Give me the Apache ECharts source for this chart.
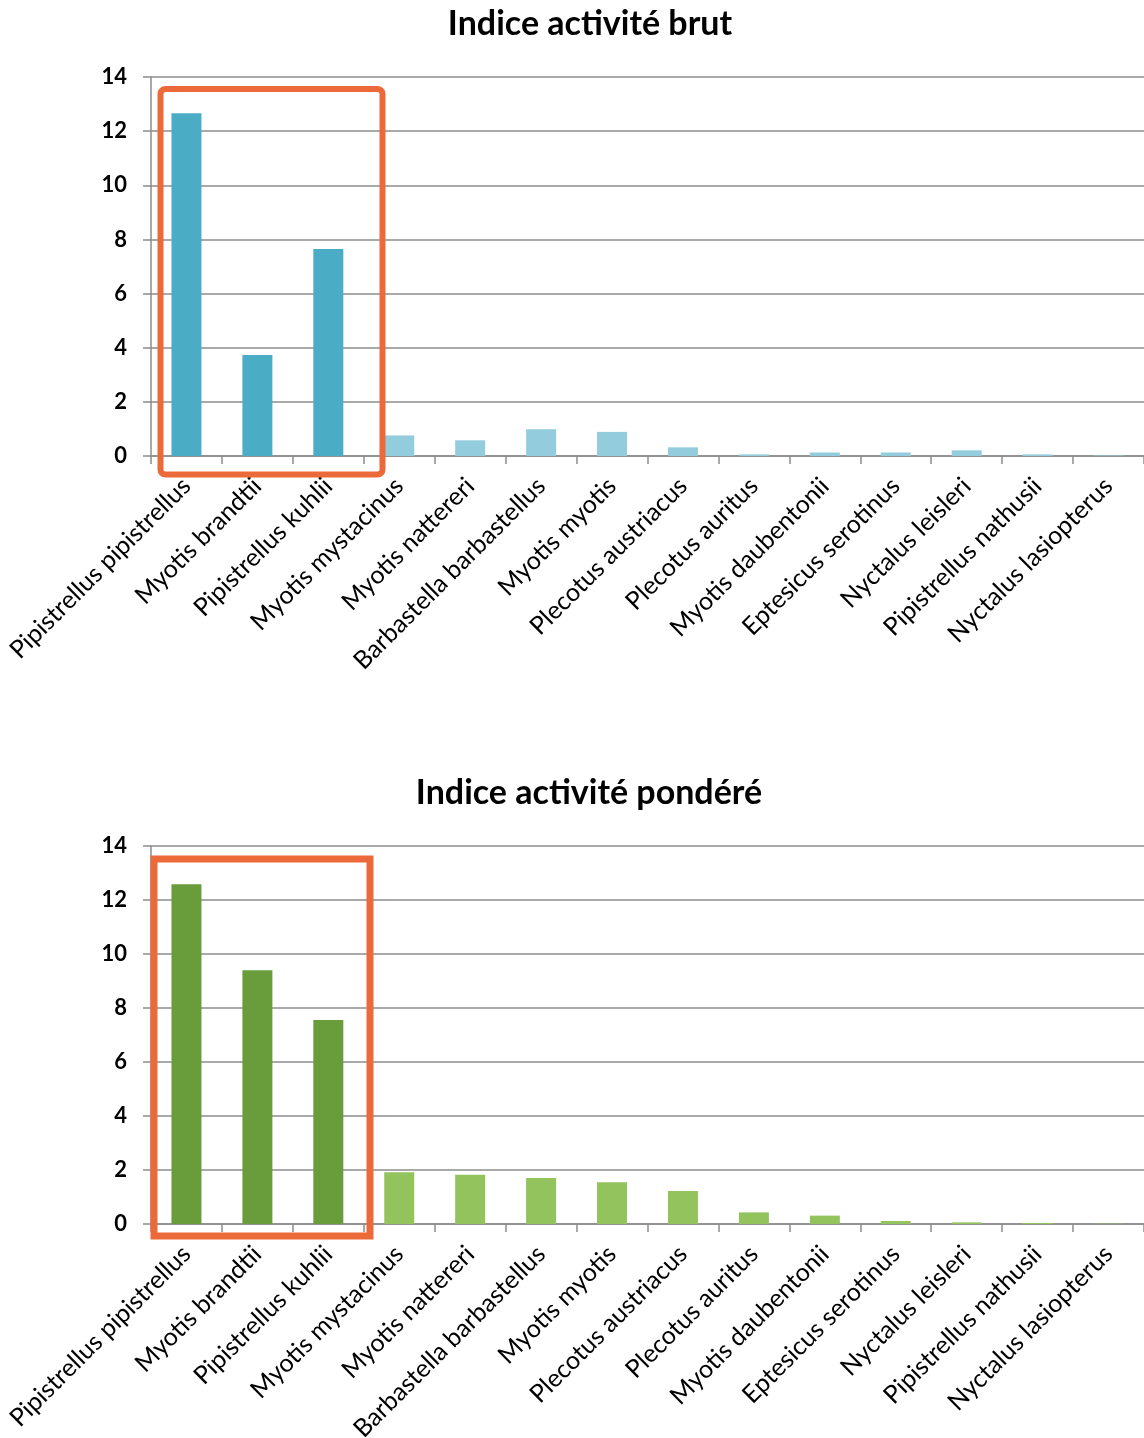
<!DOCTYPE html>
<html>
<head>
<meta charset="utf-8">
<script src="https://cdn.jsdelivr.net/npm/echarts@6/dist/echarts.min.js"></script>
<style>
  html, body { margin: 0; padding: 0; background: #fff; }
  #chart { width: 1144px; height: 1438px; }
</style>
</head>
<body>
<div id="chart"></div>
<script>
// species, same order in both charts
const species = [
  'Pipistrellus pipistrellus', 'Myotis brandtii', 'Pipistrellus kuhlii', 'Myotis mystacinus',
  'Myotis nattereri', 'Barbastella barbastellus', 'Myotis myotis', 'Plecotus austriacus',
  'Plecotus auritus', 'Myotis daubentonii', 'Eptesicus serotinus', 'Nyctalus leisleri',
  'Pipistrellus nathusii', 'Nyctalus lasiopterus'
]
const brut = [12.66, 3.73, 7.65, 0.76, 0.58, 0.99, 0.89, 0.32, 0.06, 0.13, 0.13, 0.21, 0.06, 0.02]
const pondere = [12.58, 9.40, 7.56, 1.92, 1.82, 1.70, 1.55, 1.22, 0.43, 0.31, 0.11, 0.06, 0.04, 0.01]
const yTicks = [0, 2, 4, 6, 8, 10, 12, 14]
const titles = ['Indice activité brut', 'Indice activité pondéré']
const nHighlight = 3

const gridColor = '#8c8c8c'
const labelFont = 'Lato, "Open Sans", sans-serif'

function colored(values, dark, light) {
  return values.map((v, i) => ({ value: v, itemStyle: { color: i < nHighlight ? dark : light } }))
}

function xAxisFor(gridIndex) {
  return {
    type: 'category',
    gridIndex: gridIndex,
    data: species,
    boundaryGap: true,
    axisLine: { lineStyle: { color: gridColor, width: 1.5 } },
    axisTick: { show: true, interval: 0, length: 8, lineStyle: { color: gridColor, width: 1.5 } },
    axisLabel: {
      interval: 0,
      rotate: 45,
      margin: 26,
      color: '#000',
      fontFamily: labelFont,
      fontSize: 25
    }
  }
}

function yAxisFor(gridIndex) {
  return {
    type: 'value',
    gridIndex: gridIndex,
    min: yTicks[0],
    max: yTicks[yTicks.length - 1],
    interval: 2,
    axisLine: { show: true, lineStyle: { color: gridColor, width: 1.5 } },
    axisTick: { show: true, length: 8, lineStyle: { color: gridColor, width: 1.5 } },
    splitLine: { lineStyle: { color: gridColor, width: 1.5 } },
    axisLabel: {
      margin: 24,
      color: '#000',
      fontFamily: labelFont,
      fontWeight: 'bold',
      fontSize: 22
    }
  }
}

const chart = echarts.init(document.getElementById('chart'), null, { renderer: 'canvas' })
chart.setOption({
  animation: false,
  title: [
    {
      text: titles[0], left: 585, top: 2, textAlign: 'center',
      textStyle: { fontFamily: labelFont, fontWeight: 'bold', fontSize: 34, color: '#000' }
    },
    {
      text: titles[1], left: 584, top: 771, textAlign: 'center',
      textStyle: { fontFamily: labelFont, fontWeight: 'bold', fontSize: 34, color: '#000' }
    }
  ],
  grid: [
    { left: 151, right: 0, top: 77, height: 379, containLabel: false, outerBoundsMode: 'none' },
    { left: 151, right: 0, top: 846, height: 378, containLabel: false, outerBoundsMode: 'none' }
  ],
  xAxis: [xAxisFor(0), xAxisFor(1)],
  yAxis: [yAxisFor(0), yAxisFor(1)],
  series: [
    {
      type: 'bar',
      xAxisIndex: 0,
      yAxisIndex: 0,
      barWidth: 30,
      data: colored(brut, '#4BACC6', '#93CDDD')
    },
    {
      type: 'bar',
      xAxisIndex: 1,
      yAxisIndex: 1,
      barWidth: 30,
      data: colored(pondere, '#699D3B', '#92C35D')
    }
  ],
  graphic: [
    {
      type: 'rect', z: 100,
      shape: { x: 160.5, y: 89, width: 222, height: 385.5, r: 5 },
      style: { fill: 'none', stroke: '#EC6A3A', lineWidth: 6 }
    },
    {
      type: 'rect', z: 100,
      shape: { x: 154, y: 859, width: 216, height: 377 },
      style: { fill: 'none', stroke: '#EC6A3A', lineWidth: 7 }
    }
  ]
})
</script>
</body>
</html>
